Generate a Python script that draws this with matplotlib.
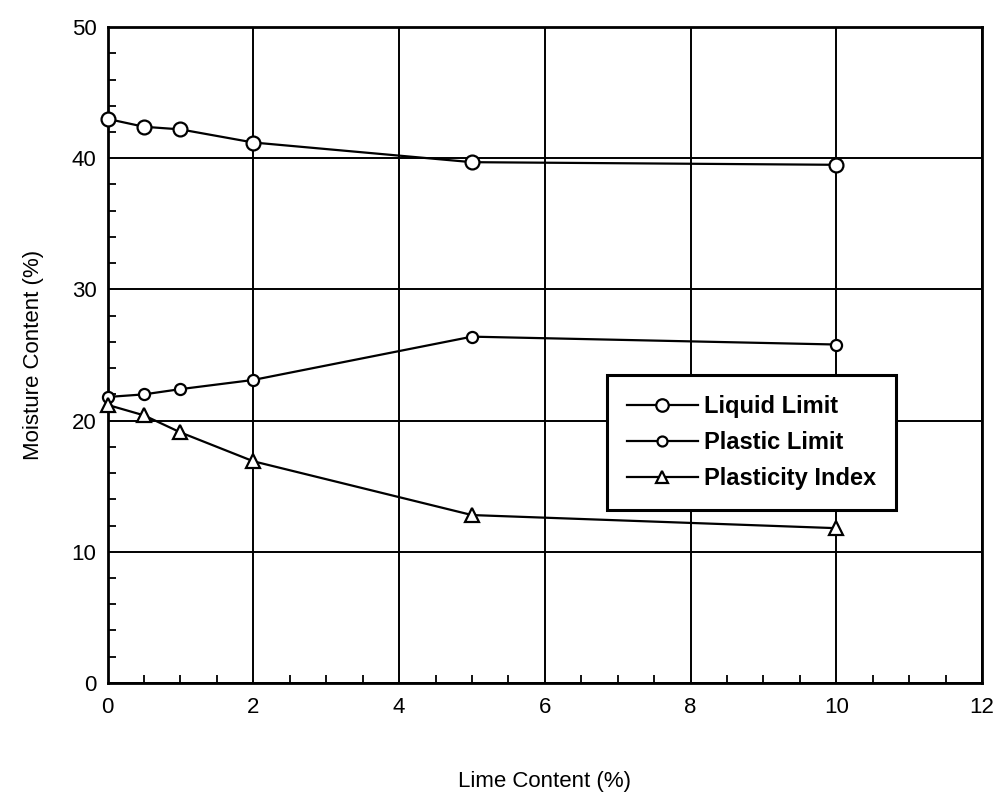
import numpy as np
import matplotlib
matplotlib.use('Agg')
import matplotlib.pyplot as plt
from matplotlib.ticker import MultipleLocator

plt.rcParams['font.family'] = ['Liberation Sans', 'DejaVu Sans']

# Atterberg limits against lime content
lime = [0, 0.5, 1, 2, 5, 10]
liquid_limit = [43.0, 42.4, 42.2, 41.2, 39.7, 39.5]
plastic_limit = [21.8, 22.0, 22.4, 23.1, 26.4, 25.8]
plasticity_index = [21.2, 20.4, 19.1, 16.9, 12.8, 11.8]

fig = plt.figure(figsize=(9.96, 7.96), dpi=100)
ax = fig.add_axes([0.108, 0.142, 0.878, 0.824])

ax.set_xlim(0, 12)
ax.set_ylim(0, 50)
ax.xaxis.set_major_locator(MultipleLocator(2))
ax.xaxis.set_minor_locator(MultipleLocator(0.5))
ax.yaxis.set_major_locator(MultipleLocator(10))
ax.yaxis.set_minor_locator(MultipleLocator(2))

ax.grid(True, which='major', color='black', lw=1.4)
ax.set_axisbelow(True)
for s in ax.spines.values():
    s.set_linewidth(2.0)

ax.tick_params(which='major', direction='in', length=0, labelsize=16, pad=10)
ax.tick_params(which='minor', direction='in', length=6, width=1.3)
ax.tick_params(axis='y', pad=8)

kw = dict(color='black', lw=1.6, mfc='white', mec='black', mew=1.6, zorder=5, clip_on=False)
ax.plot(lime, liquid_limit, marker='o', ms=10, label='Liquid Limit', **kw)
ax.plot(lime, plastic_limit, marker='o', ms=8, label='Plastic Limit', **kw)
ax.plot(lime, plasticity_index, marker='^', ms=10, label='Plasticity Index', **kw)

ax.set_xlabel('Lime Content (%)', fontsize=16, labelpad=38)
ax.set_ylabel('Moisture Content (%)', fontsize=16, labelpad=20)

leg = ax.legend(loc='upper left', bbox_to_anchor=(0.571, 0.4695), borderaxespad=0,
                frameon=True, fancybox=False, edgecolor='black', framealpha=1,
                handlelength=3.0, handletextpad=0.25, borderpad=0.85,
                labelspacing=0.55, markerscale=0.9,
                prop={'weight': 'bold', 'size': 17})
leg.get_frame().set_linewidth(2.2)
leg.set_zorder(10)

fig.savefig('out.png', dpi=100, facecolor='white')
